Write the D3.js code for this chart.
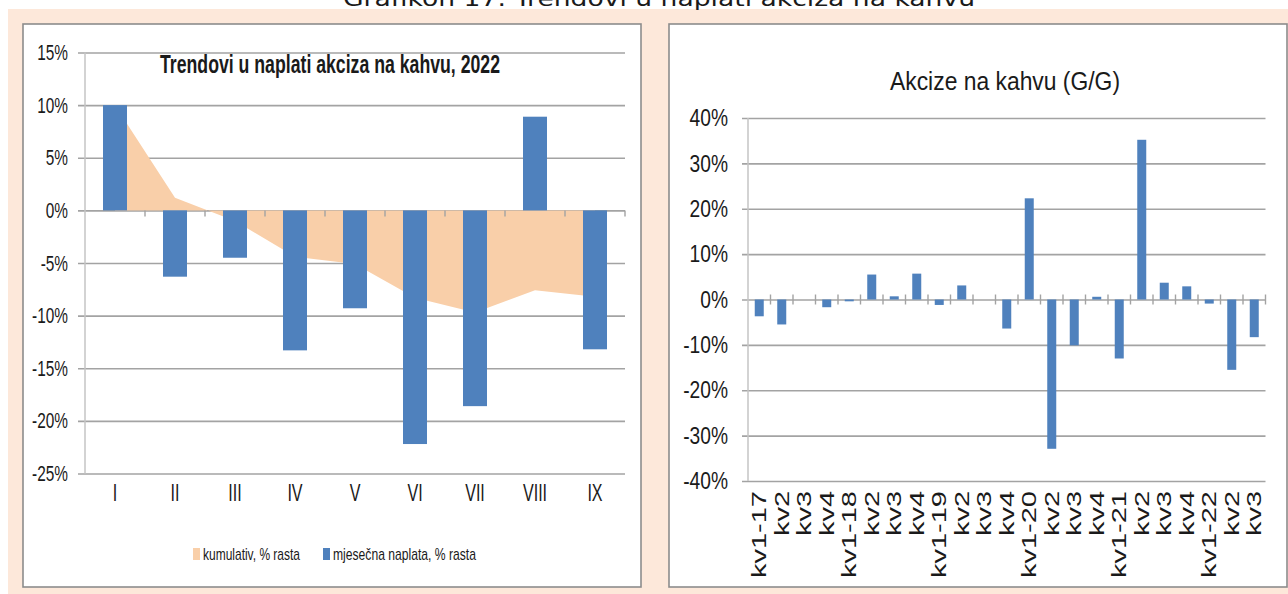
<!DOCTYPE html>
<html>
<head>
<meta charset="utf-8">
<script src="https://cdn.jsdelivr.net/npm/d3@7"></script>
<style>
  html, body { margin: 0; padding: 0; background: #fff; }
  svg { display: block; }
  text { font-family: "Liberation Sans", Arial, sans-serif; fill: #1a1a1a; }
</style>
</head>
<body>
<svg id="chart"></svg>
<script>
// left chart: 2022 by month
const months = ["I", "II", "III", "IV", "V", "VI", "VII", "VIII", "IX"]
const monthly = [10, -6.3, -4.5, -13.3, -9.3, -22.2, -18.6, 8.9, -13.2]
const cumulative = [10, 1.2, -1.0, -4.4, -5.1, -8.3, -9.7, -7.6, -8.2]
const leftTicks = [15, 10, 5, 0, -5, -10, -15, -20, -25]

// right chart: year on year by quarter
const quarters = ["kv1-17", "kv2", "kv3", "kv4", "kv1-18", "kv2", "kv3", "kv4",
                  "kv1-19", "kv2", "kv3", "kv4", "kv1-20", "kv2", "kv3", "kv4",
                  "kv1-21", "kv2", "kv3", "kv4", "kv1-22", "kv2", "kv3"]
const yoy = [-3.7, -5.5, 0, -1.7, -0.4, 5.5, 0.7, 5.7, -1.2, 3.1, 0, -6.4,
             22.3, -32.9, -10.1, 0.6, -13.0, 35.2, 3.7, 2.9, -0.9, -15.5, -8.3]
const rightTicks = [40, 30, 20, 10, 0, -10, -20, -30, -40]

const W = 1288, H = 594
const blue = "#4f81bd", peach = "#f9cfa9", grid = "#a3a3a3"

const svg = d3.select("#chart").attr("width", W).attr("height", H)

// page background and panels
svg.append("rect").attr("x", 8).attr("y", 9).attr("width", W - 8).attr("height", H - 9)
    .attr("fill", "#fde8da")

svg.append("text")
    .attr("x", 343).attr("y", 6)
    .attr("textLength", 632).attr("lengthAdjust", "spacingAndGlyphs")
    .style("font-family", "'DejaVu Sans', sans-serif")
    .style("font-size", "22px")
    .text("Grafikon 17: Trendovi u naplati akciza na kahvu")

const panels = [{x: 23, y: 24, w: 618, h: 563}, {x: 669, y: 24, w: 618, h: 563}]
svg.selectAll("rect.panel").data(panels).enter().append("rect")
    .attr("class", "panel")
    .attr("x", d => d.x).attr("y", d => d.y)
    .attr("width", d => d.w).attr("height", d => d.h)
    .attr("fill", "#fff").attr("stroke", "#8c8c8c").attr("stroke-width", 1.6)

// squeeze text horizontally around its own anchor
function squeeze(sel, k) {
    sel.each(function () {
        const t = d3.select(this)
        const x = +t.attr("x") || 0
        t.attr("x", x / k).attr("transform", "scale(" + k + ",1)")
    })
}

// ---------- left chart ----------
{
    const x = d3.scaleBand().domain(d3.range(months.length))
        .range([85, 625]).paddingInner(0.6).paddingOuter(0.3)
    const y = d3.scaleLinear().domain([-25, 15]).range([473.5, 52.5])
    const g = svg.append("g")

    const yAxis = g.append("g").attr("transform", "translate(78,0)")
        .call(d3.axisLeft(y).tickValues(leftTicks).tickSize(-547).tickPadding(10)
            .tickFormat(d => d + "%"))
    yAxis.select(".domain").remove()
    yAxis.selectAll("line").attr("stroke", grid).attr("stroke-width", 1.6)
    yAxis.selectAll("text").style("font-size", "22px").attr("fill", "#222")
    squeeze(yAxis.selectAll("text"), 0.7)

    g.append("line").attr("x1", 85).attr("x2", 85).attr("y1", y(15)).attr("y2", y(-25))
        .attr("stroke", "#c4c4c4").attr("stroke-width", 1.5)

    // cumulative area behind the bars
    const area = d3.area()
        .x((d, i) => x(i) + x.bandwidth() / 2)
        .y0(y(0))
        .y1(d => y(d))
    g.append("path").datum(cumulative).attr("d", area).attr("fill", peach)

    g.selectAll("rect.bar").data(monthly).enter().append("rect")
        .attr("class", "bar")
        .attr("x", (d, i) => x(i))
        .attr("width", x.bandwidth())
        .attr("y", d => y(Math.max(0, d)))
        .attr("height", d => Math.abs(y(d) - y(0)))
        .attr("fill", blue)

    // ticks on the zero line between categories
    g.selectAll("line.xt").data(d3.range(1, months.length + 1)).enter().append("line")
        .attr("x1", i => 85 + x.step() * i).attr("x2", i => 85 + x.step() * i)
        .attr("y1", y(0)).attr("y2", y(0) + 6)
        .attr("stroke", grid).attr("stroke-width", 1.4)

    const lab = g.selectAll("text.cat").data(months).enter().append("text")
        .attr("class", "cat")
        .attr("x", (d, i) => x(i) + x.bandwidth() / 2)
        .attr("y", 501)
        .attr("text-anchor", "middle")
        .style("font-size", "23px")
        .text(d => d)
    lab.each(function () {
        const t = d3.select(this), cx = +t.attr("x")
        t.attr("x", 0).attr("transform", "translate(" + cx + ",0) scale(0.7,1)")
    })

    g.append("text").attr("x", 160).attr("y", 73)
        .attr("textLength", 340).attr("lengthAdjust", "spacingAndGlyphs")
        .style("font-size", "25px").style("font-weight", "bold").attr("fill", "#111")
        .text("Trendovi u naplati akciza na kahvu, 2022")

    const legend = [
        {label: "kumulativ, % rasta", color: peach, x: 193, len: 97},
        {label: "mjesečna naplata, % rasta", color: blue, x: 323, len: 143}
    ]
    const lg = g.selectAll("g.lg").data(legend).enter().append("g")
        .attr("transform", d => "translate(" + d.x + ",548)")
    lg.append("rect").attr("width", 7).attr("height", 12).attr("fill", d => d.color)
    lg.append("text").attr("x", 10).attr("y", 12)
        .attr("textLength", d => d.len).attr("lengthAdjust", "spacingAndGlyphs")
        .style("font-size", "17px")
        .text(d => d.label)
}

// ---------- right chart ----------
{
    const x = d3.scaleBand().domain(d3.range(quarters.length))
        .range([748, 1265.5]).paddingInner(0.6).paddingOuter(0.3)
    const y = d3.scaleLinear().domain([-40, 40]).range([481, 118])
    const g = svg.append("g")

    const yAxis = g.append("g").attr("transform", "translate(742,0)")
        .call(d3.axisLeft(y).tickValues(rightTicks).tickSize(-523.5).tickPadding(14)
            .tickFormat(d => d + "%"))
    yAxis.select(".domain").remove()
    yAxis.selectAll("line").attr("stroke", grid).attr("stroke-width", 1.6)
    yAxis.selectAll("text").style("font-size", "24px").attr("fill", "#222")
    squeeze(yAxis.selectAll("text"), 0.8)

    g.append("line").attr("x1", 748).attr("x2", 748).attr("y1", y(40)).attr("y2", y(-40))
        .attr("stroke", "#c4c4c4").attr("stroke-width", 1.5)

    g.selectAll("line.xt").data(d3.range(1, quarters.length + 1)).enter().append("line")
        .attr("x1", i => 748 + x.step() * i).attr("x2", i => 748 + x.step() * i)
        .attr("y1", y(0) - 5).attr("y2", y(0) + 5)
        .attr("stroke", grid).attr("stroke-width", 1.4)

    g.selectAll("rect.bar").data(yoy).enter().append("rect")
        .attr("class", "bar")
        .attr("x", (d, i) => x(i))
        .attr("width", x.bandwidth())
        .attr("y", d => y(Math.max(0, d)))
        .attr("height", d => Math.abs(y(d) - y(0)))
        .attr("fill", blue)

    g.selectAll("text.cat").data(quarters).enter().append("text")
        .attr("class", "cat")
        .attr("transform", (d, i) => "translate(" + (x(i) + x.bandwidth() / 2) + ",491) rotate(-90) scale(1.45,1)")
        .attr("text-anchor", "end")
        .attr("dy", "0.36em")
        .style("font-size", "20px")
        .attr("fill", "#111")
        .text(d => d)

    g.append("text").attr("x", 890).attr("y", 90)
        .attr("textLength", 230).attr("lengthAdjust", "spacingAndGlyphs")
        .style("font-size", "25px").attr("fill", "#111")
        .text("Akcize na kahvu (G/G)")
}
</script>
</body>
</html>
